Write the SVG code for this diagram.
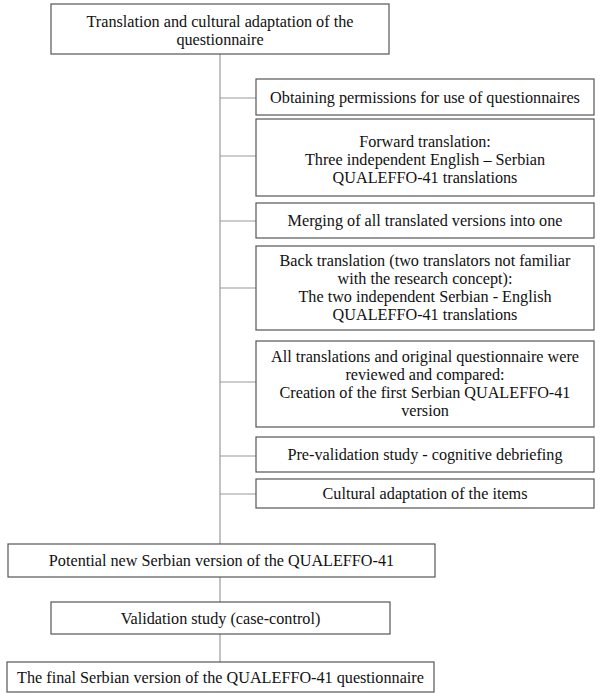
<svg xmlns="http://www.w3.org/2000/svg" width="600" height="699" viewBox="0 0 600 699">
<style>
rect{fill:#fff;stroke:#555;stroke-width:1.2}
text{font-family:"Liberation Serif","Times New Roman",serif;font-size:16.2px;fill:#111;text-anchor:middle}
.c line{stroke:#999;stroke-width:1.2}
</style>
<rect x="0" y="0" width="600" height="699" style="stroke:none"/>
<g class="c" id="connectors">
<line x1="220" y1="54" x2="220" y2="544"/>
<line x1="220" y1="98" x2="256" y2="98"/>
<line x1="220" y1="156" x2="256" y2="156"/>
<line x1="220" y1="221" x2="256" y2="221"/>
<line x1="220" y1="288" x2="256" y2="288"/>
<line x1="220" y1="382" x2="256" y2="382"/>
<line x1="220" y1="456" x2="256" y2="456"/>
<line x1="220" y1="494" x2="256" y2="494"/>
<line x1="220" y1="577" x2="220" y2="602"/>
<line x1="220" y1="634" x2="220" y2="662"/>
</g>
<g id="n0"><rect x="51" y="4" width="338" height="50"/><text x="220" y="27">Translation and cultural adaptation of the</text><text x="220" y="45">questionnaire</text></g>
<g id="n1"><rect x="256" y="79" width="338" height="36"/><text x="425" y="102.5">Obtaining permissions for use of questionnaires</text></g>
<g id="n2"><rect x="256" y="119" width="338" height="77"/><text x="425" y="147">Forward translation:</text><text x="425" y="165">Three independent English – Serbian</text><text x="425" y="183">QUALEFFO-41 translations</text></g>
<g id="n3"><rect x="256" y="203" width="338" height="35"/><text x="425" y="226">Merging of all translated versions into one</text></g>
<g id="n4"><rect x="256" y="246" width="338" height="84"/><text x="425" y="266">Back translation (two translators not familiar</text><text x="425" y="284">with the research concept):</text><text x="425" y="302">The two independent Serbian - English</text><text x="425" y="320">QUALEFFO-41 translations</text></g>
<g id="n5"><rect x="256" y="341" width="338" height="86"/><text x="425" y="362">All translations and original questionnaire were</text><text x="425" y="380">reviewed and compared:</text><text x="425" y="398">Creation of the first Serbian QUALEFFO-41</text><text x="425" y="416">version</text></g>
<g id="n6"><rect x="256" y="437" width="338" height="35"/><text x="425" y="460">Pre-validation study - cognitive debriefing</text></g>
<g id="n7"><rect x="256" y="479" width="338" height="29"/><text x="425" y="499">Cultural adaptation of the items</text></g>
<g id="n8"><rect x="8" y="544" width="427" height="33"/><text x="221.5" y="566">Potential new Serbian version of the QUALEFFO-41</text></g>
<g id="n9"><rect x="51" y="602" width="339" height="32"/><text x="220.5" y="623.5">Validation study (case-control)</text></g>
<g id="n10"><rect x="7" y="662" width="427" height="30"/><text x="220.5" y="682.5">The final Serbian version of the QUALEFFO-41 questionnaire</text></g>
</svg>
